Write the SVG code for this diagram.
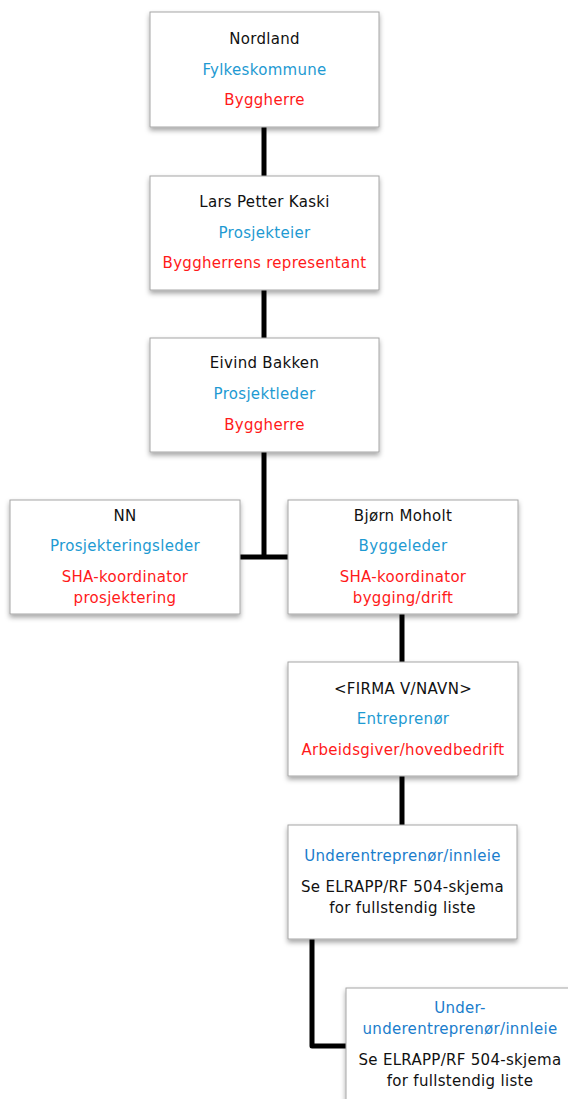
<svg xmlns="http://www.w3.org/2000/svg" width="568" height="1099" viewBox="0 0 568 1099">
<style>
.box{fill:#fff;stroke:#a6a6a6;stroke-width:1;filter:url(#sh)}
.conn{fill:none;stroke:#000;stroke-width:5;stroke-linejoin:round}
text{font-family:"DejaVu Sans","Liberation Sans",sans-serif;font-size:15px;letter-spacing:0.3px;text-anchor:middle}
.k{fill:#111}
.b{fill:#1e9ad2}
.b2{fill:#1a7dcc}
.r{fill:#ff1a1a}
</style>
<defs>
<filter id="sh" x="-10%" y="-10%" width="125%" height="130%">
<feDropShadow dx="0" dy="3" stdDeviation="2.5" flood-color="#000" flood-opacity="0.35"/>
</filter>
</defs>
<rect width="568" height="1099" fill="#fff"/>
<g id="connectors">
<path class="conn" d="M264 127V176"/>
<path class="conn" d="M264 290V338"/>
<path class="conn" d="M264 452V557M240 557H288"/>
<path class="conn" d="M402 614V662"/>
<path class="conn" d="M402 776V825"/>
<path class="conn" d="M312 939V1046H346"/>
</g>
<g id="nordland">
<rect class="box" x="150" y="12" width="229" height="115"/>
<text class="k" x="264.5" y="44">Nordland</text>
<text class="b" x="264.5" y="75">Fylkeskommune</text>
<text class="r" x="264.5" y="105">Byggherre</text>
</g>
<g id="kaski">
<rect class="box" x="150" y="176" width="229" height="114"/>
<text class="k" x="264.5" y="207">Lars Petter Kaski</text>
<text class="b" x="264.5" y="238">Prosjekteier</text>
<text class="r" x="264.5" y="268">Byggherrens representant</text>
</g>
<g id="bakken">
<rect class="box" x="150" y="338" width="229" height="114"/>
<text class="k" x="264.5" y="368">Eivind Bakken</text>
<text class="b" x="264.5" y="399">Prosjektleder</text>
<text class="r" x="264.5" y="430">Byggherre</text>
</g>
<g id="nn">
<rect class="box" x="10" y="500" width="230" height="114"/>
<text class="k" x="125" y="521">NN</text>
<text class="b" x="125" y="551">Prosjekteringsleder</text>
<text class="r" x="125" y="582">SHA-koordinator</text>
<text class="r" x="125" y="603">prosjektering</text>
</g>
<g id="moholt">
<rect class="box" x="288" y="500" width="230" height="114"/>
<text class="k" x="403" y="521">Bjørn Moholt</text>
<text class="b" x="403" y="551">Byggeleder</text>
<text class="r" x="403" y="582">SHA-koordinator</text>
<text class="r" x="403" y="603">bygging/drift</text>
</g>
<g id="firma">
<rect class="box" x="288" y="662" width="230" height="114"/>
<text class="k" x="403" y="694">&lt;FIRMA V/NAVN&gt;</text>
<text class="b" x="403" y="724">Entreprenør</text>
<text class="r" x="403" y="755">Arbeidsgiver/hovedbedrift</text>
</g>
<g id="under">
<rect class="box" x="288" y="825" width="229" height="114"/>
<text class="b2" x="402.5" y="861">Underentreprenør/innleie</text>
<text class="k" x="402.5" y="892">Se ELRAPP/RF 504-skjema</text>
<text class="k" x="402.5" y="913">for fullstendig liste</text>
</g>
<g id="underunder">
<rect class="box" x="346" y="988" width="230" height="120"/>
<text class="b2" x="460" y="1013">Under-</text>
<text class="b2" x="460" y="1034">underentreprenør/innleie</text>
<text class="k" x="460" y="1065">Se ELRAPP/RF 504-skjema</text>
<text class="k" x="460" y="1086">for fullstendig liste</text>
</g>
</svg>
